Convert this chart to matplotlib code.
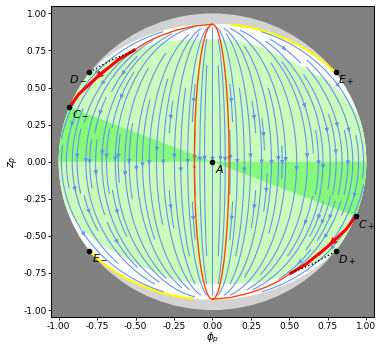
import numpy as np
import matplotlib
matplotlib.use('Agg')
import matplotlib.pyplot as plt
from matplotlib.patches import Circle, Polygon

# white region = unit circle cut by this ellipse
ell_a, ell_b = 1.047, 0.93
pole_y = 0.927          # top / bottom point where the flow lines meet
wedge_slope = -0.395    # bright green wedge lies between z=0 and z=slope*phi

# upper edge of the light green region (the lower edge is its point mirror)
green_x = [-0.80, -0.65, -0.50, -0.35, -0.20, 0.00, 0.15, 0.30, 0.45, 0.60, 0.75, 0.87, 0.96]
green_y = [0.605, 0.69, 0.752, 0.805, 0.822, 0.825, 0.815, 0.78, 0.71, 0.63, 0.545, 0.43, 0.30]

# separatrix from the top point down to C- (the lower one is its point mirror)
sep_x = [0.0, -0.12, -0.24, -0.35, -0.43, -0.50, -0.61, -0.74, -0.87, -0.93]
sep_y = [0.927, 0.915, 0.885, 0.845, 0.805, 0.758, 0.689, 0.58, 0.455, 0.368]
thick_from = 5

# the two narrow orbits through the middle
loop_c = [-0.118, 0.108]

# yellow boundary piece starts here and runs to E+
yellow_from = 0.12

# labelled points
pt_names = ['$D_-$', '$C_-$', '$E_+$', '$E_-$', '$C_+$', '$D_+$', '$A$']
pt_x = [-0.80, -0.93, 0.80, -0.80, 0.93, 0.80, 0.0]
pt_y = [0.605, 0.368, 0.605, -0.605, -0.368, -0.605, 0.0]

light_green = '#ccfcbc'
bright_green = '#84f97a'

fig = plt.figure(figsize=(3.76, 3.46), dpi=100)
ax = fig.add_axes([0.1356, 0.0824, 0.859, 0.9003])
ax.set_facecolor('gray')
ax.set_xlim(-1.05, 1.05)
ax.set_ylim(-1.05, 1.05)

ax.add_patch(Circle((0, 0), 1, fc='lightgray', ec='none', zorder=0.5))

th = np.linspace(0, 2*np.pi, 721)
r_ell = 1/np.sqrt(np.cos(th)**2/ell_a**2 + np.sin(th)**2/ell_b**2)
r = np.minimum(1.0, r_ell)
white = Polygon(np.c_[r*np.cos(th), r*np.sin(th)], closed=True, fc='white', ec='none', zorder=0.6)
ax.add_patch(white)

# light green
gx = np.array(green_x)
gy = np.array(green_y)
ext = 1.3
verts = np.vstack([np.c_[gx, gy],
                   [[ext, gy[-1]], [ext, -gy[0]]],
                   np.c_[-gx, -gy],
                   [[-ext, -gy[-1]], [-ext, gy[0]]]])
gp = Polygon(verts, closed=True, fc=light_green, ec='none', zorder=0.7)
ax.add_patch(gp)
gp.set_clip_path(white)

# bright green wedge
for s in (-1, 1):
    tri = Polygon([[0, 0], [s*ext, wedge_slope*s*ext], [s*ext, 0]], closed=True,
                  fc=bright_green, ec='none', zorder=0.8)
    ax.add_patch(tri)
    tri.set_clip_path(white)

# yellow pieces of the boundary
yx = np.linspace(yellow_from, 0.8, 100)
yy = ell_b*np.sqrt(1 - yx**2/ell_a**2)
ax.plot(yx, yy, color='yellow', lw=1.6, zorder=1.5, solid_capstyle='butt')
ax.plot(-yx, -yy, color='yellow', lw=1.6, zorder=1.5, solid_capstyle='butt')

# flow lines
xs = np.linspace(-1.05, 1.05, 260)
X, Y = np.meshgrid(xs, xs)
U = X*Y
V = -(pole_y**2 - Y**2)
inside = (X**2 + Y**2 < 1) & (X**2/ell_a**2 + Y**2/ell_b**2 < 1) & (np.abs(Y) < pole_y)
U = np.ma.masked_where(~inside, U)
V = np.ma.masked_where(~inside, V)
ax.streamplot(xs, xs, U, V, density=1.9, color='cornflowerblue', linewidth=0.8,
              arrowsize=0.55, zorder=2)

# narrow orbits
yl = np.linspace(-pole_y, pole_y, 300)
for c in loop_c:
    xl = c*np.sqrt(1 - (yl/pole_y)**2)
    ax.plot(xl, yl, color='orangered', lw=1, zorder=3)
    y0 = 0.033*np.sign(c)
    ax.annotate('', xy=(c*np.sqrt(1-((y0-0.02)/pole_y)**2), y0-0.02),
                xytext=(c*np.sqrt(1-(y0/pole_y)**2), y0),
                arrowprops=dict(arrowstyle='-|>', color='orangered', lw=0, mutation_scale=6),
                zorder=3)

# separatrices
sx = np.array(sep_x)
sy = np.array(sep_y)
for m in (1, -1):
    ax.plot(m*sx[:thick_from+1], m*sy[:thick_from+1], color='orangered', lw=1, zorder=3)
    ax.plot(m*sx[thick_from:], m*sy[thick_from:], color='red', lw=2.2, zorder=3,
            solid_capstyle='butt')
    # black dotted edge from D to the separatrix
    ax.plot(m*gx[:3], m*gy[:3], color='k', lw=1, ls=':', zorder=3.5)

p7 = np.array([sx[7], sy[7]])
p8 = np.array([sx[8], sy[8]])
d = p8 - p7
ax.annotate('', xy=p7 + 0.25*d, xytext=p7 - 0.1*d,
            arrowprops=dict(arrowstyle='-|>', color='red', lw=0, mutation_scale=14), zorder=4)
ax.annotate('', xy=-(p7 + 0.05*d), xytext=-(p7 + 0.4*d),
            arrowprops=dict(arrowstyle='-|>', color='red', lw=0, mutation_scale=14), zorder=4)

# points and labels
ax.plot(pt_x, pt_y, 'o', color='k', ms=3, zorder=5)
for name, x, y in zip(pt_names, pt_x, pt_y):
    if name == '$D_-$':
        ax.annotate(name, (x, y), xytext=(-2, -1), textcoords='offset points',
                    ha='right', va='top', fontsize=8, zorder=6)
    else:
        ax.annotate(name, (x, y), xytext=(2, -1), textcoords='offset points',
                    ha='left', va='top', fontsize=8, zorder=6)

ticks = [-1.0, -0.75, -0.5, -0.25, 0.0, 0.25, 0.5, 0.75, 1.0]
ax.set_xticks(ticks)
ax.set_yticks(ticks)
ax.set_xticklabels(['%.2f' % t for t in ticks])
ax.set_yticklabels(['%.2f' % t for t in ticks])
ax.tick_params(labelsize=6.5, length=2, pad=1, width=0.6)
for sp in ax.spines.values():
    sp.set_linewidth(0.7)
ax.set_xlabel(r'$\phi_p$', fontsize=7.5, labelpad=0)
ax.set_ylabel(r'$z_p$', fontsize=8, labelpad=2)

plt.savefig('out.png', dpi=100)
